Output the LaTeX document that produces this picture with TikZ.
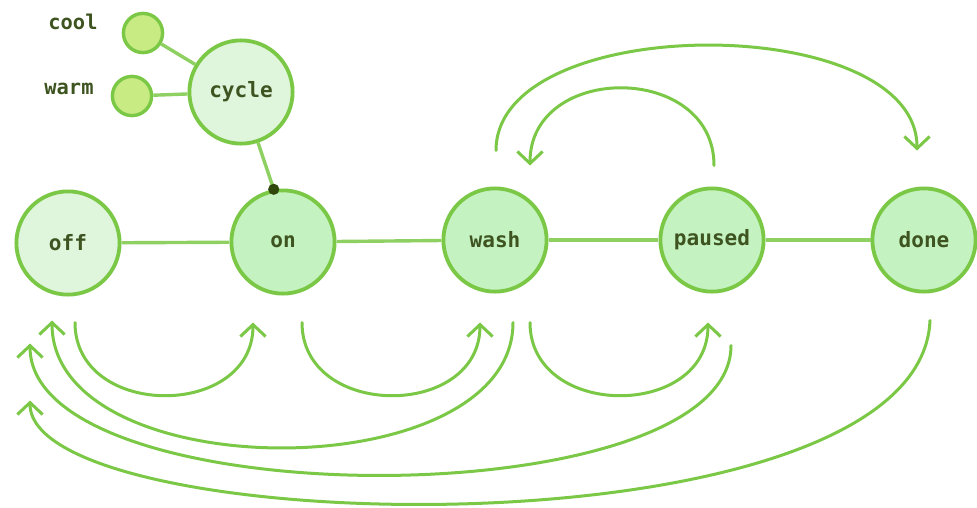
\documentclass[tikz,border=0pt]{standalone}
\usepackage{fontspec}
\setmonofont{DejaVu Sans Mono}
\usetikzlibrary{arrows.meta,positioning,calc}
\definecolor{edgeColor}{RGB}{122,200,70}
\definecolor{stateFill}{RGB}{196,242,192}
\definecolor{startFill}{RGB}{223,245,220}
\definecolor{leafFill}{RGB}{200,235,132}
\definecolor{textColor}{RGB}{62,84,32}
\definecolor{dotColor}{RGB}{48,72,12}

\begin{document}
\begin{tikzpicture}[x=0.025cm,y=-0.025cm,font=\ttfamily\bfseries\fontsize{15}{18}\selectfont,
 state/.style={circle,draw=edgeColor,line width=0.095cm,fill=stateFill,text=textColor,minimum size=2.58cm,inner sep=0pt},
 leaf/.style={circle,draw=edgeColor,line width=0.085cm,fill=leafFill,minimum size=0.98cm,inner sep=0pt},
 tag/.style={text=textColor,font=\ttfamily\bfseries\fontsize{14.5}{17}\selectfont},
 link/.style={draw=edgeColor!85,line width=0.085cm},
 dot/.style={circle,fill=dotColor,minimum size=0.28cm,inner sep=0pt},
 arrow/.style={-{Straight Barb[length=8.5pt,width=18pt]},draw=edgeColor,line width=0.075cm,line cap=round}]
\useasboundingbox (0,0) rectangle (977,507);
% states
\node[state,fill=startFill] (off) at (68,243) {off};
\node[state] (on) at (283,242) {on};
\node[state] (wash) at (495,240) {wash};
\node[state] (paused) at (712,240) {paused};
\node[state] (done) at (924,240) {done};
% cycle options
\node[state,fill=startFill] (cycle) at (241,92) {cycle};
\node[leaf] (cool) at (143,33) {};
\node[leaf] (warm) at (132,96) {};
\node[tag] (coolTag) at (73,22) {cool};
\node[tag] (warmTag) at (69,89) {warm};
\draw[link] (off) -- (on);\draw[link] (on) -- (wash);
\draw[link] (wash) -- (paused);\draw[link] (paused) -- (done);
\draw[link] (cool) -- (cycle);\draw[link] (warm) -- (cycle);
\draw[link] (cycle) -- (on.100) node[dot] (hub) {};
% transitions below
\draw[arrow] ($(off.south)+(7,26)$) .. controls +(0,97) and +(0,97) .. ($(on.south)+(-30,27)$);
\draw[arrow] ($(on.south)+(19,27)$) .. controls +(0,97) and +(0,97) .. ($(wash.south)+(-15,29)$);
\draw[arrow] ($(wash.south)+(35,29)$) .. controls +(0,97) and +(0,97) .. ($(paused.south)+(-4,29)$);
\draw[arrow] ($(wash.south)+(18,29)$) .. controls +(0,167) and +(0,169) .. ($(off.south)+(-16,24)$);
\draw[arrow] ($(paused.south)+(19,52)$) .. controls +(0,173) and +(0,175) .. ($(off.south)+(-38,47)$);
\draw[arrow] ($(done.south)+(6,27)$) .. controls +(-10,240) and +(0,140) .. ($(off.south)+(-38,104)$);
% transitions above
\draw[arrow] ($(wash.north)+(1,-36)$) .. controls +(0,-140) and +(0,-140) .. ($(done.north)+(-7,-36)$);
\draw[arrow] ($(paused.north)+(2,-21)$) .. controls +(0,-103) and +(0,-103) .. ($(wash.north)+(35,-21)$);
\end{tikzpicture}
\end{document}
